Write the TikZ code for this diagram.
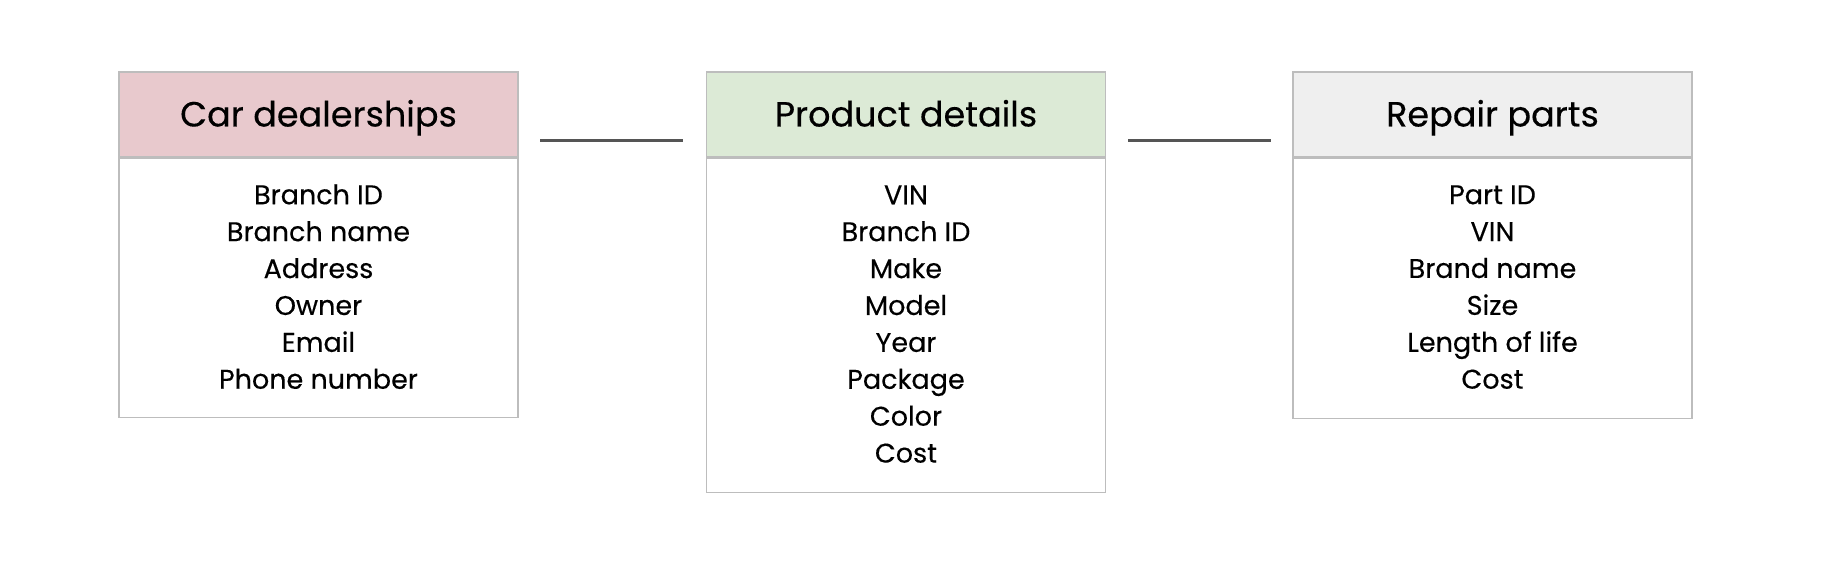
\documentclass[tikz,border=0pt]{standalone}
\usepackage{fontspec}
\setmainfont{Poppins}[FakeBold=0.3]
\definecolor{redc}{HTML}{E8C9CD}
\definecolor{greenc}{HTML}{DCEAD6}
\definecolor{grayc}{HTML}{EFEFEF}
\definecolor{edgec}{HTML}{BDBDBD}
\definecolor{linec}{HTML}{555555}
\begin{document}
\begin{tikzpicture}[x=1pt,y=1pt,
  head/.style={draw=edgec, line width=1.5pt, minimum width=399pt, minimum height=85pt, inner sep=0pt, text height=26pt, text depth=2pt, font=\fontsize{35}{40}\selectfont},
  bodybox/.style={draw=edgec, line width=1.5pt, minimum width=399pt, inner sep=0pt, anchor=north, align=center, text depth=3pt, font=\fontsize{27}{36.9}\selectfont},
  conn/.style={draw=linec, line width=3pt}]
\useasboundingbox (0,0) rectangle (1838,562);
\fill[white] (0,0) rectangle (1838,562);
\node[head, fill=redc] (h1) at (318.5,447.5) {Car dealerships};
\node[bodybox, minimum height=259pt] (b1) at (h1.south) {Branch ID\\Branch name\\Address\\Owner\\Email\\Phone number};
\node[head, fill=greenc] (h2) at (906,447.5) {Product details};
\node[bodybox, minimum height=334pt] (b2) at (h2.south) {VIN\\Branch ID\\Make\\Model\\Year\\Package\\Color\\Cost};
\node[head, fill=grayc] (h3) at (1492.5,447.5) {Repair parts};
\node[bodybox, minimum height=260pt] (b3) at (h3.south) {Part ID\\VIN\\Brand name\\Size\\Length of life\\Cost};
\coordinate (c1a) at (540,421);
\coordinate (c1b) at (683,421);
\coordinate (c2a) at (1128,421);
\coordinate (c2b) at (1271,421);
\draw[conn] (c1a) -- (c1b);
\draw[conn] (c2a) -- (c2b);
\end{tikzpicture}
\end{document}
